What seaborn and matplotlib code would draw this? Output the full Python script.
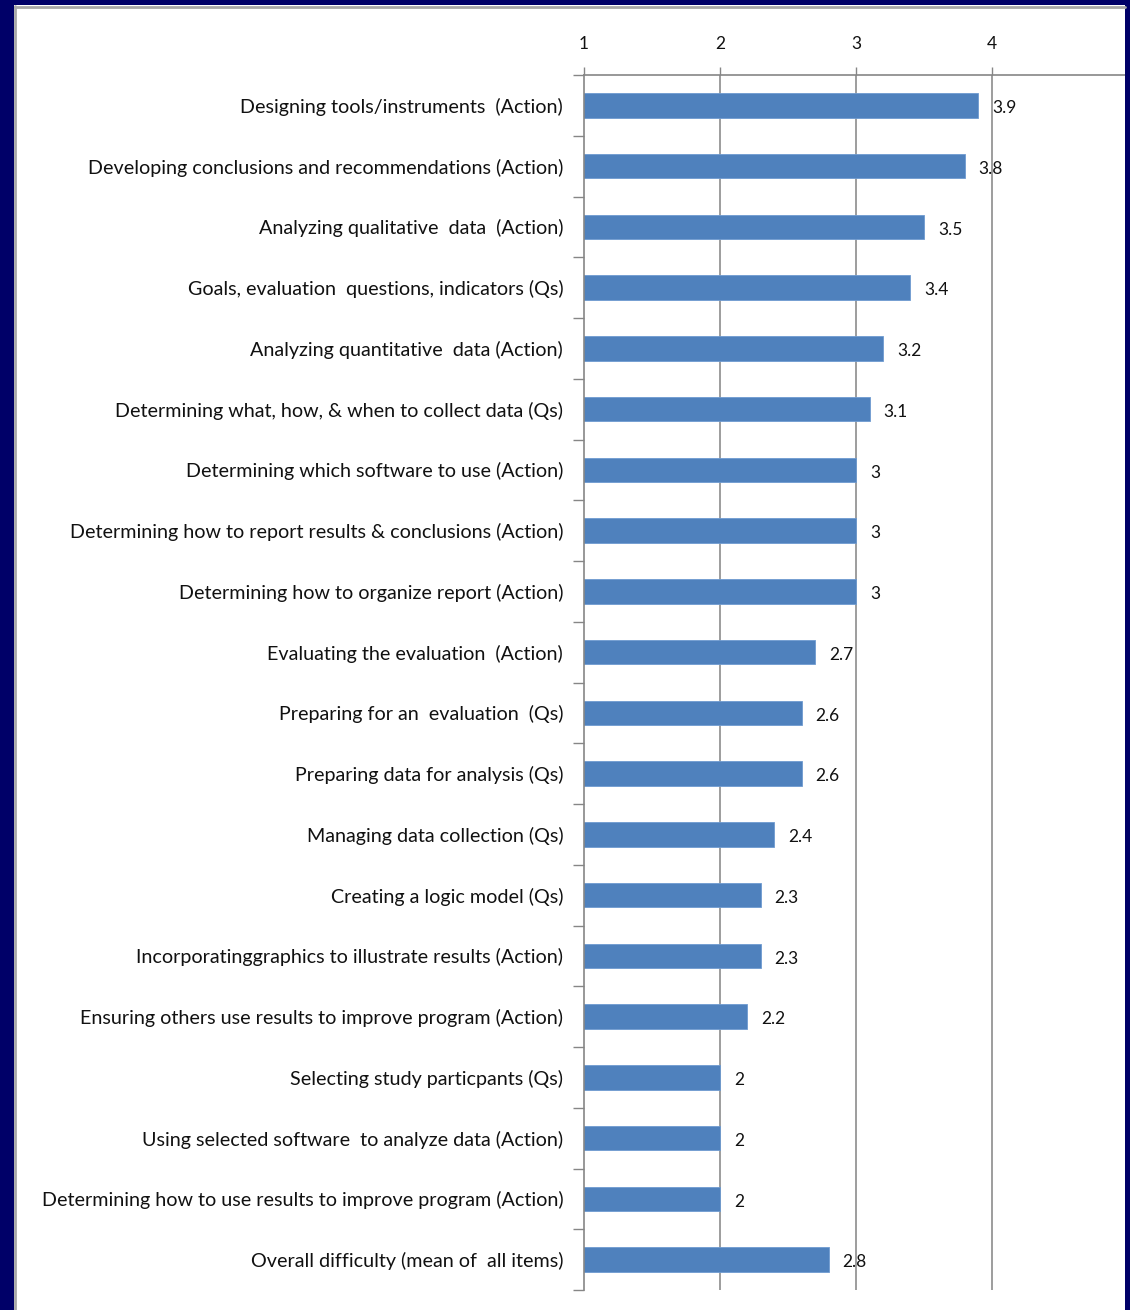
import matplotlib
matplotlib.use("Agg")
import matplotlib.pyplot as plt
import seaborn as sns
import pandas as pd
from matplotlib.patches import Rectangle
from matplotlib.ticker import FixedLocator

categories = [
    "Designing tools/instruments  (Action)",
    "Developing conclusions and recommendations (Action)",
    "Analyzing qualitative  data  (Action)",
    "Goals, evaluation  questions, indicators (Qs)",
    "Analyzing quantitative  data (Action)",
    "Determining what, how, & when to collect data (Qs)",
    "Determining which software to use (Action)",
    "Determining how to report results & conclusions (Action)",
    "Determining how to organize report (Action)",
    "Evaluating the evaluation  (Action)",
    "Preparing for an  evaluation  (Qs)",
    "Preparing data for analysis (Qs)",
    "Managing data collection (Qs)",
    "Creating a logic model (Qs)",
    "Incorporatinggraphics to illustrate results (Action)",
    "Ensuring others use results to improve program (Action)",
    "Selecting study particpants (Qs)",
    "Using selected software  to analyze data (Action)",
    "Determining how to use results to improve program (Action)",
    "Overall difficulty (mean of  all items)",
]
values = [3.9, 3.8, 3.5, 3.4, 3.2, 3.1, 3, 3, 3, 2.7, 2.6, 2.6, 2.4, 2.3, 2.3, 2.2, 2, 2, 2, 2.8]
tick_values = [1, 2, 3, 4, 5]
tick_labels = ["1", "2", "3", "4", ""]

sns.set_theme(style="white")
plt.rcParams["font.family"] = ["Lato", "DejaVu Sans"]

NAVY = "#000068"
W, H = 1130, 1310
fig = plt.figure(figsize=(W / 100, H / 100), dpi=100)
fig.patch.set_facecolor("white")

left, right, top, bottom = 584, 1128, 75, 1290
ax = fig.add_axes([left / W, 1 - bottom / H, (right - left) / W, (bottom - top) / H])
ax.set_facecolor("none")
ax.set_zorder(2)

df = pd.DataFrame({"item": categories, "value": values})
sns.barplot(data=df, x="value", y="item", orient="h", color="#4F81BD",
            saturation=1, width=0.4, ax=ax, edgecolor="#6f9bd0", linewidth=0.6)

ax.set_xlim(1, 5)
ax.set_ylim(len(categories) - 0.5, -0.5)
ax.set_xticks(tick_values)
ax.set_xticklabels(tick_labels)
ax.xaxis.tick_top()
ax.tick_params(axis="x", direction="out", length=6, width=1, color="#868686",
               pad=10.5, labelsize=12.5, labelcolor="#111111")
ax.set_xlabel("")
ax.set_ylabel("")

ax.yaxis.set_minor_locator(FixedLocator([i - 0.5 for i in range(len(categories) + 1)]))
ax.tick_params(axis="y", which="minor", direction="out", length=8, width=1, color="#868686", left=True)
ax.tick_params(axis="y", which="major", length=0, pad=15, labelsize=14.2, labelcolor="#111111")

ax.grid(False)
for t in tick_values[1:]:
    ax.axvline(t, color="#8c8c8c", lw=1.2, zorder=0)
ax.set_axisbelow(True)

for s in ["right", "bottom"]:
    ax.spines[s].set_visible(False)
for s in ["top", "left"]:
    ax.spines[s].set_color("#868686")
    ax.spines[s].set_linewidth(1.2)

texts = ax.bar_label(ax.containers[0], labels=[f"{v:g}" for v in values], padding=10,
                     fontsize=12.5, color="#111111")
for t in texts:
    t.set_position((10, -2))

# navy frame (left, top, right) and thin grey inner frame
for (x0, y0, w, h) in [(0, 0, 14, H), (0, H - 5, W, 5), (1125, 0, 5, H)]:
    fig.add_artist(Rectangle((x0 / W, y0 / H), w / W, h / H, transform=fig.transFigure,
                             facecolor=NAVY, edgecolor="none", zorder=10))
fig.add_artist(plt.Line2D([15 / W, 15 / W], [0, (H - 6) / H], transform=fig.transFigure,
                          color="#a8a8a8", lw=2, zorder=11))
fig.add_artist(plt.Line2D([15 / W, 1125 / W], [(H - 6.5) / H, (H - 6.5) / H], transform=fig.transFigure,
                          color="#a8a8a8", lw=2, zorder=11))

fig.savefig("out.png", dpi=100, facecolor=fig.get_facecolor())
